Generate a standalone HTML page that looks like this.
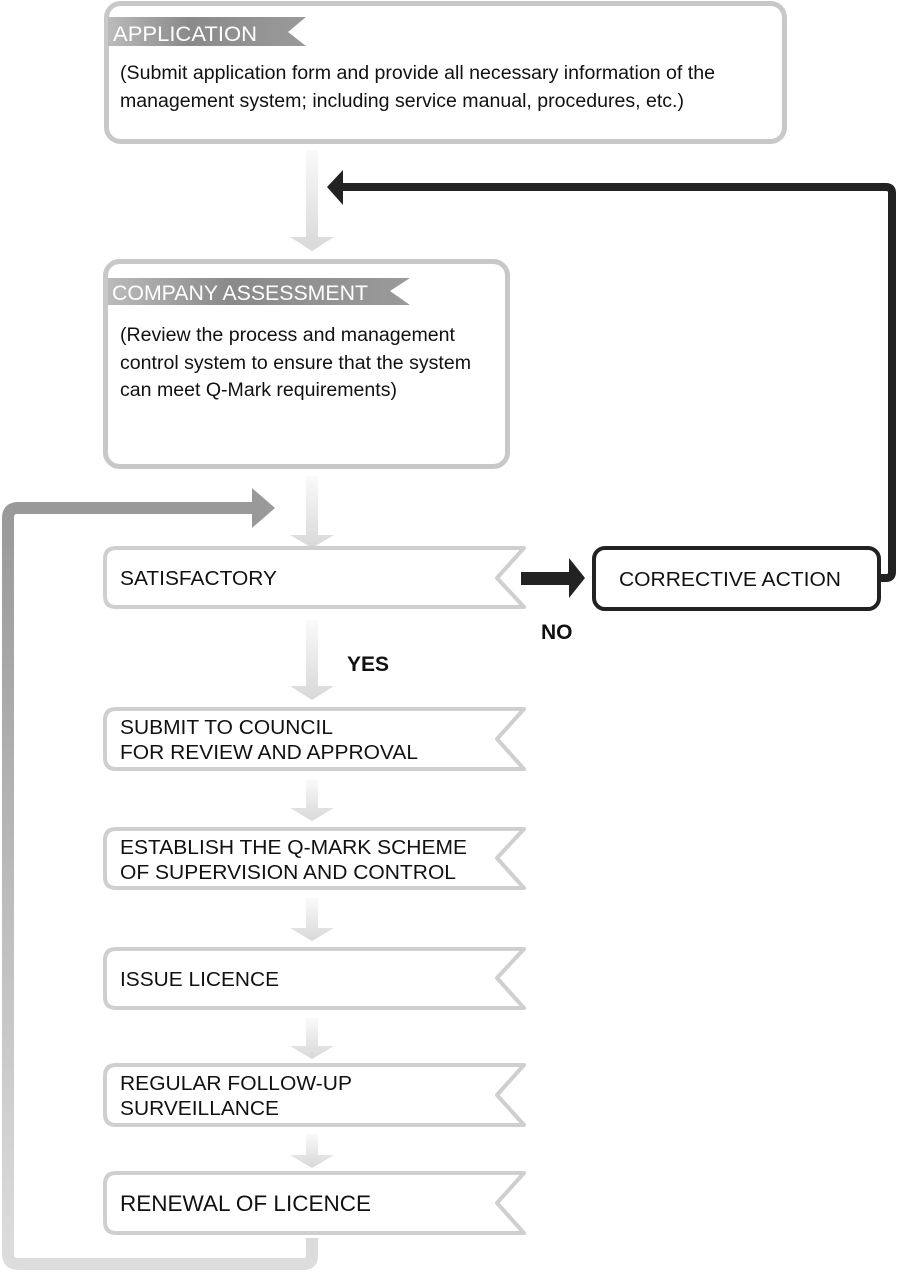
<!DOCTYPE html>
<html><head><style>
html,body{margin:0;padding:0;background:#fff;}
svg{display:block;}
text{font-family:"Liberation Sans",Arial,sans-serif;}
</style></head><body>
<svg width="900" height="1278" viewBox="0 0 900 1278" xmlns="http://www.w3.org/2000/svg">
<defs>
<linearGradient id="down" x1="0" y1="0" x2="0" y2="1"><stop offset="0" stop-color="#fafafa"/><stop offset="1" stop-color="#d8d8d8"/></linearGradient>
<linearGradient id="loop" x1="0" y1="0" x2="0" y2="1"><stop offset="0" stop-color="#999"/><stop offset="1" stop-color="#ddd"/></linearGradient>
<linearGradient id="ban" x1="0" y1="0" x2="1" y2="0"><stop offset="0" stop-color="#bbb"/><stop offset="0.4" stop-color="#8a8a8a"/><stop offset="1" stop-color="#9a9a9a"/></linearGradient>
</defs>

<path d="M312 1238 V1256 Q312 1264 304 1264 H18 Q8 1264 8 1254 V518 Q8 508 18 508 H255" fill="none" stroke="url(#loop)" stroke-width="12"/>
<polygon points="252,488 275,508 252,528" fill="#999"/>

<path d="M878 578 H886 Q892 578 892 572 V193 Q892 187 886 187 H340" fill="none" stroke="#222" stroke-width="8"/>
<polygon points="343,170 327,187 343,205" fill="#222"/>

<rect x="106.5" y="3.5" width="678" height="138" rx="14" fill="#fff" stroke="#c8c8c8" stroke-width="5"/>
<polygon points="108,17 306,17 288,32 306,46 108,46" fill="url(#ban)"/>
<g lengthAdjust="spacingAndGlyphs">
<text x="113" y="41" font-size="21" fill="#fff" textLength="144" lengthAdjust="spacingAndGlyphs">APPLICATION</text>
<text x="120" y="79" font-size="19" fill="#111" textLength="595" lengthAdjust="spacingAndGlyphs">(Submit application form and provide all necessary information of the</text>
<text x="120" y="107" font-size="19" fill="#111" textLength="564" lengthAdjust="spacingAndGlyphs">management system; including service manual, procedures, etc.)</text>
</g>

<g fill="url(#down)">
<path d="M306 150 H318 V237 H334 L312 251 L290 237 H306 Z"/>
<path d="M306 476 H318 V535 H334 L312 548 L290 535 H306 Z"/>
<path d="M306 620 H318 V686 H334 L312 700 L290 686 H306 Z"/>
<path d="M306 780 H318 V808 H334 L312 821 L290 808 H306 Z"/>
<path d="M306 898 H318 V928 H334 L312 941 L290 928 H306 Z"/>
<path d="M306 1018 H318 V1046 H334 L312 1059 L290 1046 H306 Z"/>
<path d="M306 1134 H318 V1155 H334 L312 1168 L290 1155 H306 Z"/>
</g>

<rect x="105.5" y="261.5" width="402" height="205" rx="14" fill="#fff" stroke="#c8c8c8" stroke-width="5"/>
<polygon points="108,278 410,278 390,291 410,305 108,305" fill="url(#ban)"/>
<text x="112" y="300" font-size="21" fill="#fff" textLength="256" lengthAdjust="spacingAndGlyphs">COMPANY ASSESSMENT</text>
<text x="120" y="341" font-size="19" fill="#111" textLength="335" lengthAdjust="spacingAndGlyphs">(Review the process and management</text>
<text x="120" y="369" font-size="19" fill="#111" textLength="351" lengthAdjust="spacingAndGlyphs">control system to ensure that the system</text>
<text x="120" y="396" font-size="19" fill="#111" textLength="277" lengthAdjust="spacingAndGlyphs">can meet Q-Mark requirements)</text>

<g fill="#fff" stroke="#cfcfcf" stroke-width="4" stroke-linejoin="round">
<path d="M116 548 H524 L497 578 L524 607 H116 Q105 607 105 596 V559 Q105 548 116 548 Z"/>
<path d="M116 709 H524 L497 739 L524 769 H116 Q105 769 105 758 V720 Q105 709 116 709 Z"/>
<path d="M116 829 H524 L497 858 L524 888 H116 Q105 888 105 877 V840 Q105 829 116 829 Z"/>
<path d="M116 949 H524 L497 978 L524 1008 H116 Q105 1008 105 997 V960 Q105 949 116 949 Z"/>
<path d="M116 1065 H524 L497 1095 L524 1125 H116 Q105 1125 105 1114 V1076 Q105 1065 116 1065 Z"/>
<path d="M116 1173 H524 L497 1203 L524 1233 H116 Q105 1233 105 1222 V1184 Q105 1173 116 1173 Z"/>
</g>
<g font-size="20.5" fill="#111">
<text x="120" y="585" textLength="157" lengthAdjust="spacingAndGlyphs">SATISFACTORY</text>
<text x="120" y="734" textLength="213" lengthAdjust="spacingAndGlyphs">SUBMIT TO COUNCIL</text>
<text x="120" y="759" textLength="298" lengthAdjust="spacingAndGlyphs">FOR REVIEW AND APPROVAL</text>
<text x="120" y="854" textLength="347" lengthAdjust="spacingAndGlyphs">ESTABLISH THE Q-MARK SCHEME</text>
<text x="120" y="879" textLength="336" lengthAdjust="spacingAndGlyphs">OF SUPERVISION AND CONTROL</text>
<text x="120" y="986" textLength="159" lengthAdjust="spacingAndGlyphs">ISSUE LICENCE</text>
<text x="120" y="1090" textLength="232" lengthAdjust="spacingAndGlyphs">REGULAR FOLLOW-UP</text>
<text x="120" y="1115" textLength="159" lengthAdjust="spacingAndGlyphs">SURVEILLANCE</text>
<text x="120" y="1211" font-size="22.5" textLength="251" lengthAdjust="spacingAndGlyphs">RENEWAL OF LICENCE</text>
</g>

<rect x="521" y="572" width="50" height="13" fill="#222"/>
<polygon points="569,558 585,578 569,598" fill="#222"/>
<text x="541" y="639" font-size="21" font-weight="bold" fill="#111">NO</text>
<text x="347" y="671" font-size="21" font-weight="bold" fill="#111">YES</text>

<rect x="594" y="548" width="285" height="61" rx="11" fill="#fff" stroke="#222" stroke-width="4"/>
<text x="619" y="586" font-size="20.5" fill="#111" textLength="222" lengthAdjust="spacingAndGlyphs">CORRECTIVE ACTION</text>
</svg>
</body></html>
